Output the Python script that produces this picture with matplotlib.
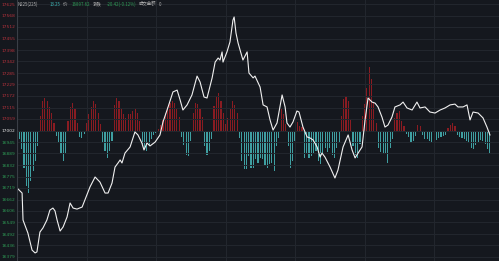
import matplotlib.pyplot as plt
import numpy as np

# Data
base = 17002
y_ticks = [17625, 17568, 17512, 17455, 17398, 17342, 17285, 17229, 17172, 17115, 17059,
           17002,
           16945, 16889, 16832, 16775, 16719, 16662, 16606, 16549, 16492, 16436, 16379]

line_min = [0, 2.2, 2.6, 4.7, 6.5, 7.8, 8.6, 9.9, 11.2, 12.9, 14.2, 15.5, 16.4, 17.3, 18.6,
            19.9, 21.6, 22.9, 24.2, 25.9, 28.1, 29.3, 31.5, 33.7, 35.8, 38, 39.3, 41, 42.3,
            43.6, 44.5, 45.3, 46.6, 48.8, 50.9, 52.2, 53.9, 54.8, 56.1, 57.4, 59.6, 61.7, 63,
            65.2, 67.3, 69.1, 70.4, 71.6, 73.4, 75.5, 77.7, 79, 80.7, 82, 84.2, 85.5, 86.8,
            87.6, 88.5, 88.9, 90.6, 91.9, 93.2, 93.7, 94.5, 95.4, 97.5, 99.3, 100.1, 101.9,
            102.7, 104.9, 106.2, 107.9, 109.2, 110.5, 112.2, 114.4, 115.7, 116.5, 117.8, 119.1,
            120.8, 121.7, 123.4, 125.2, 126.5, 127.8, 129.5, 130.8, 131.6, 132.9, 135.1, 137.2,
            138.5, 140.7, 142.9, 144.6, 145.9, 147.2, 148.9, 150.2, 151.5, 153.2, 154.5, 155.8,
            157.5, 158.8, 160.1, 161.8, 163.1, 165.3, 166.6, 168.3, 170.5, 172.6, 173.9, 176.1,
            178.2, 180.4, 182.6, 184.7, 186.9, 189, 190.3, 192.5, 194.2, 195.5, 196.8, 199,
            201.1, 202.8, 204.1]
line_price = [16719, 16694, 16561, 16497, 16413, 16399, 16404, 16502, 16522, 16561, 16610,
              16620, 16606, 16561, 16507, 16527, 16576, 16645, 16620, 16615, 16625, 16660,
              16724, 16773, 16748, 16694, 16694, 16743, 16822, 16842, 16857, 16842, 16891,
              16921, 16995, 16980, 16940, 16906, 16940, 16926, 16945, 16980, 17044, 17118,
              17192, 17201, 17152, 17103, 17128, 17177, 17270, 17241, 17167, 17162, 17261,
              17339, 17359, 17349, 17389, 17339, 17389, 17438, 17546, 17561, 17482, 17433,
              17349, 17389, 17285, 17261, 17270, 17216, 17128, 17118, 17054, 17004, 17039,
              17177, 17118, 17039, 17019, 17044, 17098, 17093, 17019, 16970, 16965, 16955,
              16921, 16871, 16891, 16871, 16822, 16768, 16807, 16921, 16980, 16906, 16867,
              16891, 16921, 17054, 17162, 17142, 17137, 17118, 17068, 17019, 17029, 17068,
              17118, 17128, 17142, 17113, 17103, 17142, 17113, 17118, 17093, 17088, 17103,
              17113, 17128, 17132, 17118, 17118, 17128, 17054, 17093, 17088, 17064, 17019,
              16980]

flow = [-3, -8, -18, -37, -55, -62, -50, -40, -30, -15, 15, 30, 33, 30, 24, 18, 8, -5, -12,
        -22, -30, -22, 10, 24, 28, 22, 8, -6, -7, -3, 8, 17, 24, 30, 27, 18, 7, -12, -20,
        -27, -20, -10, 26, 33, 30, 22, 17, 13, 17, 17, 20, 22, 18, 10, -13, -18, -20, -14,
        -8, -4, -2, 2, 6, 12, 18, 24, 28, 30, 28, 22, 14, -6, -14, -24, -25, -10, 18, 28,
        27, 22, 14, -15, -24, -20, -8, 25, 35, 38, 30, 18, 7, 13, 22, 30, 26, 18, -7, -30,
        -38, -38, -25, -37, -37, -28, -32, -27, -28, -35, -37, -33, -32, -40, -15, -7, 22,
        17, 7, -15, -37, -30, -10, 9, 5, 4, -27, -23, -27, -25, -22, -20, -30, -33, -22,
        -17, -21, -17, -24, -27, -17, -12, 15, 32, 35, 30, 12, -15, -24, -27, -13, 15, 27,
        43, 64, 52, 28, 8, -17, -21, -23, -22, -32, -17, -8, 13, 18, 20, 10, 5, -3, -6, -12,
        -10, -5, 6, 5, -4, -8, -8, -10, -11, -12, -9, -7, -6, -5, -4, 3, 6, 8, 5, -4, -6,
        -7, -8, -10, -12, -17, -18, -14, -11, -9, -10, -13, -18, -23]
flow_min = np.arange(len(flow))

bg = '#15181e'
grid_c = '#23272e'
up_c = '#8a1c22'
down_c = '#3f9fa1'

fig = plt.figure(figsize=(4.99, 2.61), dpi=100, facecolor=bg)
ax = fig.add_axes([17 / 499, 0, 482 / 499, 1])
ax.set_facecolor(bg)

ax2 = ax.twinx()
ax2.set_zorder(0)
ax.set_zorder(1)
ax.patch.set_visible(False)

colors = [up_c if v > 0 else down_c for v in flow]
ax2.bar(flow_min, flow, width=0.5, color=colors, linewidth=0)
ax2.set_ylim(-130.5, 130.5)
ax2.axis('off')

ax.plot(line_min, line_price, color='#f0f0f0', lw=0.8)

span = 130.5 * 4.925
ax.set_ylim(base - span, base + span)
ax.set_xlim(0, 208)

ax.set_yticks(y_ticks)
ax.set_yticklabels([str(v) for v in y_ticks], fontsize=3.2)
for lbl, v in zip(ax.get_yticklabels(), y_ticks):
    if v > base:
        lbl.set_color('#b8323c')
    elif v < base:
        lbl.set_color('#2e9a55')
    else:
        lbl.set_color('#e6e6e6')
ax.tick_params(axis='y', length=0, pad=1)
ax.set_xticks([30, 60, 90, 120, 150, 180])
ax.tick_params(axis='x', length=0, labelbottom=False)
ax.grid(True, color=grid_c, lw=0.7)
ax.set_axisbelow(True)
for s in ax.spines.values():
    s.set_visible(False)
ax.axvline(0, color='#3a3e46', lw=0.8)
ax.axhline(base, color='#3a3e46', lw=0.6, zorder=0)

# header
hdr = [(18, 'N225(225)', '#b0b0b0'), (50, '13.25', '#3fb8b8'), (63, '价', '#b0b0b0'),
       (72, '16897.62', '#2e9a55'), (93, '涨跌', '#b0b0b0'), (107, '-20.42(-0.12%)', '#2e9a55'),
       (139, '成交金额', '#b0b0b0'), (159, '0', '#b0b0b0')]
for x, t, c in hdr:
    fig.text(x / 499, 1 - 4 / 261, t, color=c, fontsize=3.2, va='center', ha='left',
             family=['Noto Sans CJK SC', 'DejaVu Sans'])

fig.savefig('out.png', dpi=100, facecolor=bg)
